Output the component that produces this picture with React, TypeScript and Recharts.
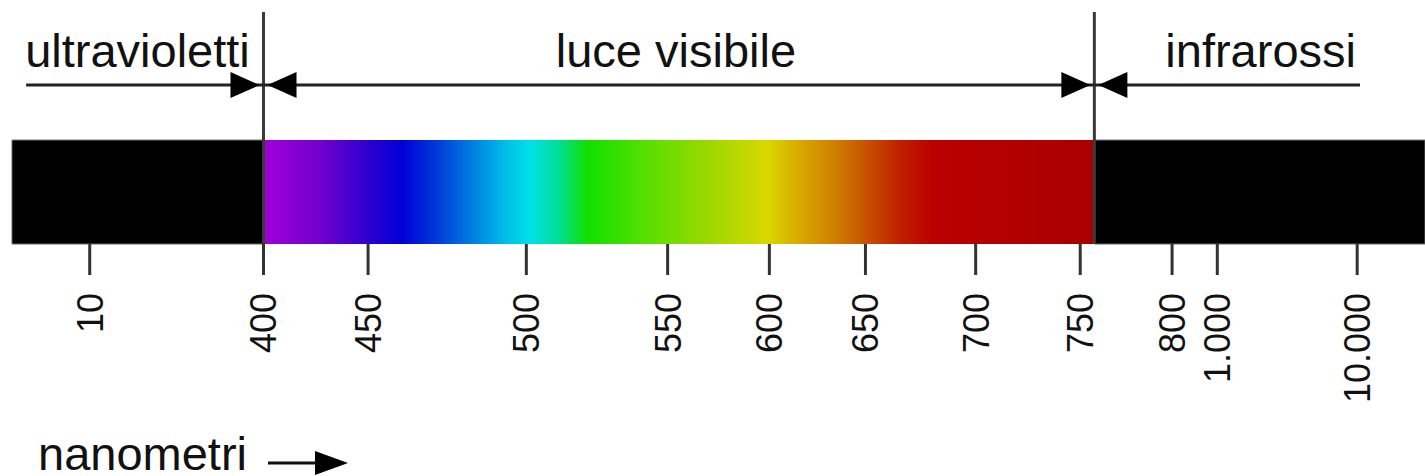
import React from 'react';
import { ComposedChart, XAxis, YAxis, ReferenceArea, ReferenceLine, Label, Line } from 'recharts';

// Axis positions are percent of the band length (the scale is hand-drawn, not linear in nm)
const tickLabels = ['10', '400', '450', '500', '550', '600', '650', '700', '750', '800', '1.000', '10.000'];
const tickPositions = [5.5, 17.8, 25.2, 36.4, 46.4, 53.6, 60.4, 68.2, 75.6, 82.1, 85.3, 95.2];

// three regions of the spectrum
const regionNames = ['ultravioletti', 'luce visibile', 'infrarossi'];
const regionBounds = [0, 17.8, 76.6, 100];
const arrowBounds = [1.0, 17.8, 76.6, 95.4];
const boundaryLines = [17.8, 76.6];

const W = 1425;
const H = 476;
const FONT = '"Liberation Sans", Arial, sans-serif';
const BAND_TOP = 44.8; // y units (0..100)
const ARROW_Y = 68.5;

const spectrumStops: [number, string][] = [
  [0, '#a000d8'],
  [0.07, '#7000cc'],
  [0.124, '#3000d0'],
  [0.167, '#0000d8'],
  [0.212, '#0040d8'],
  [0.252, '#0080e0'],
  [0.293, '#00c0e8'],
  [0.32, '#00e0e8'],
  [0.357, '#00e090'],
  [0.389, '#10e000'],
  [0.453, '#50e000'],
  [0.541, '#a0d800'],
  [0.606, '#d8d800'],
  [0.646, '#d8a800'],
  [0.686, '#d08000'],
  [0.727, '#c85000'],
  [0.766, '#c02000'],
  [0.806, '#bb0000'],
  [0.927, '#b00000'],
  [1, '#a80000'],
];

const regionFills = ['#000', 'url(#spectrum)', '#000'];
const heads = [
  { start: false, end: true },
  { start: true, end: true },
  { start: true, end: false },
];
const labelAnchor = ['start', 'middle', 'end'];

// chart needs rows so the axes get drawn
const rows = regionBounds.map((x) => ({ x, y: BAND_TOP }));

function arrowShape(i: number) {
  return (p: any) => {
    const { x1, y1, x2 } = p;
    const y = y1;
    const hw = 29;
    const hh = 13;
    let tx = x1 - 1;
    if (labelAnchor[i] === 'middle') tx = (x1 + x2) / 2 - 3;
    if (labelAnchor[i] === 'end') tx = x2 - 4;
    return (
      <g>
        <line x1={x1} y1={y} x2={x2} y2={y} stroke="#222" strokeWidth={3} />
        {heads[i].end && (
          <polygon
            points={`${x2 - 4},${y} ${x2 - 4 - hw},${y - hh} ${x2 - 4 - hw},${y + hh}`}
            fill="#000"
          />
        )}
        {heads[i].start && (
          <polygon
            points={`${x1 + 4},${y} ${x1 + 4 + hw},${y - hh} ${x1 + 4 + hw},${y + hh}`}
            fill="#000"
          />
        )}
        <text
          x={tx}
          y={y - 18}
          textAnchor={labelAnchor[i] as any}
          fontSize={47}
          fontFamily={FONT}
          fill="#111"
        >
          {regionNames[i]}
        </text>
      </g>
    );
  };
}

function RotatedTick(props: any) {
  const { x, y, payload } = props;
  const idx = tickPositions.indexOf(payload.value);
  return (
    <text
      x={x}
      y={y}
      transform={`rotate(-90 ${x} ${y})`}
      textAnchor="end"
      dy="0.36em"
      fontSize={36}
      fontFamily={FONT}
      fill="#111"
    >
      {tickLabels[idx]}
    </text>
  );
}

function AxisTitle(props: any) {
  const vb = props.viewBox || { x: 12, y: 244, width: 1413, height: 232 };
  const tx = vb.x + 26;
  const ty = vb.y + vb.height - 6;
  const ay = ty - 7;
  return (
    <g>
      <text x={tx} y={ty} fontSize={47} fontFamily={FONT} fill="#111">
        nanometri
      </text>
      <line x1={tx + 230} y1={ay} x2={tx + 282} y2={ay} stroke="#111" strokeWidth={3} />
      <polygon points={`${tx + 310},${ay} ${tx + 277},${ay - 12} ${tx + 277},${ay + 12}`} fill="#000" />
    </g>
  );
}

export default function App() {
  return (
    <div style={{ position: 'absolute', left: 0, top: 0, width: W, height: H, background: '#fff' }}>
      <ComposedChart data={rows} width={W} height={H} margin={{ top: 12, right: 0, left: 12, bottom: 0 }}>
        <defs>
          <linearGradient id="spectrum" x1="0" y1="0" x2="1" y2="0">
            {spectrumStops.map(([o, c]) => (
              <stop key={o} offset={o} stopColor={c} />
            ))}
          </linearGradient>
        </defs>
        <XAxis
          type="number"
          dataKey="x"
          domain={[0, 100]}
          ticks={tickPositions}
          interval={0}
          axisLine={false}
          tickLine={{ stroke: '#333', strokeWidth: 3 }}
          tickSize={31}
          tickMargin={18}
          tick={<RotatedTick />}
          height={232}
        >
          <Label content={<AxisTitle />} />
        </XAxis>
        <YAxis type="number" domain={[0, 100]} hide />
        {regionNames.map((n, i) => (
          <ReferenceArea
            key={n}
            x1={regionBounds[i]}
            x2={regionBounds[i + 1]}
            y1={0}
            y2={BAND_TOP}
            fill={regionFills[i]}
            fillOpacity={1}
            stroke={i === 1 ? 'none' : '#666'}
            strokeWidth={1}
            ifOverflow="visible"
          />
        ))}
        {boundaryLines.map((b) => (
          <ReferenceLine key={b} x={b} stroke="#3a3a3a" strokeWidth={3} ifOverflow="visible" />
        ))}
        {regionNames.map((n, i) => (
          <ReferenceLine
            key={'a' + n}
            segment={[
              { x: arrowBounds[i], y: ARROW_Y },
              { x: arrowBounds[i + 1], y: ARROW_Y },
            ]}
            shape={arrowShape(i)}
            ifOverflow="visible"
          />
        ))}
        <Line dataKey="y" stroke="none" dot={false} activeDot={false} isAnimationActive={false} />
      </ComposedChart>
    </div>
  );
}
